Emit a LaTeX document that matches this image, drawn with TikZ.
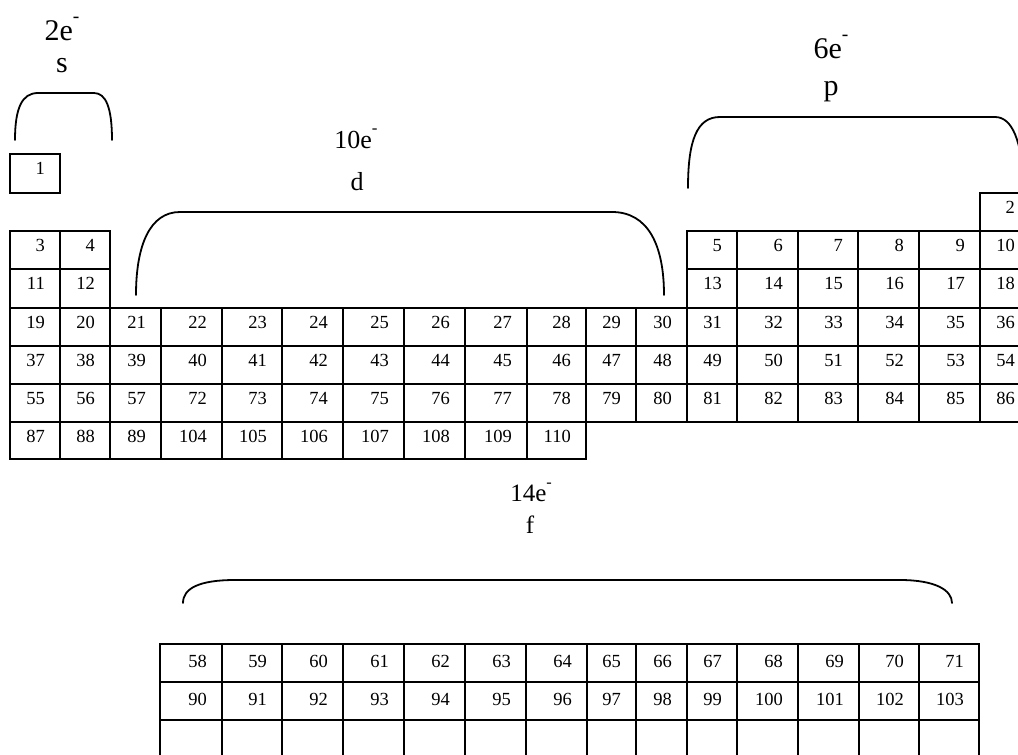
\documentclass[tikz,border=0pt]{standalone}
\usepackage{fontspec}
\setmainfont{Liberation Serif}
\newcommand\eminus{\raisebox{0.57em}{\scalebox{0.65}{-}}}
\def\cx{{10,60,110,161,222,282,343,404,465,527,586,636,687,737,798,858,919,980,1030}}
\def\ry{{154,193,231,269,308,346,384,422,459}}
\def\fx{{160,222,282,343,404,465,526,587,636,687,737,798,859,919,979}}
\def\fy{{644,682,720,758}}
% main-table cell: column index, row index, number
\newcommand\pcell[3]{%
  \pgfmathsetmacro\xa{\cx[#1]}\pgfmathsetmacro\xb{\cx[#1+1]}%
  \pgfmathsetmacro\ya{\ry[#2]}\pgfmathsetmacro\yb{\ry[#2+1]}%
  \draw[cellline] (\xa,\ya) rectangle (\xb,\yb);
  \node[num] (n#3) at (\xb-15,\ya+20.5) {#3};}
% f-table cell: column index, row index, text, name
\newcommand\fcell[4]{%
  \pgfmathsetmacro\xa{\fx[#1]}\pgfmathsetmacro\xb{\fx[#1+1]}%
  \pgfmathsetmacro\ya{\fy[#2]}\pgfmathsetmacro\yb{\fy[#2+1]}%
  \draw[cellline] (\xa,\ya) rectangle (\xb,\yb);
  \node[num] (#4) at (\xb-15,\ya+23) {#3};}
\begin{document}
\begin{tikzpicture}[x=1pt,y=-1pt,
  cellline/.style={line width=1.8pt},
  num/.style={font=\fontsize{18.5}{20}\selectfont, inner sep=0pt, anchor=base east},
  bracebig/.style={line width=1.8pt, line cap=round},
  lblbig/.style={inner sep=0pt, anchor=base, font=\fontsize{30}{32}\selectfont},
  lblmid/.style={inner sep=0pt, anchor=base, font=\fontsize{26}{28}\selectfont},
  lblsmall/.style={inner sep=0pt, anchor=base, font=\fontsize{25}{27}\selectfont}]
\useasboundingbox (0,0) rectangle (1018,755);
\clip (0,0) rectangle (1018,755);
\fill[white] (0,0) rectangle (1018,755);

% ---- main table ----
\pcell{0}{0}{1}
\pcell{17}{1}{2}
\pcell{0}{2}{3}
\pcell{1}{2}{4}
\foreach \i in {12,...,17}{\pgfmathtruncatemacro\n{\i-7}\pcell{\i}{2}{\n}}
\pcell{0}{3}{11}
\pcell{1}{3}{12}
\foreach \i in {12,...,17}{\pgfmathtruncatemacro\n{\i+1}\pcell{\i}{3}{\n}}
\foreach \i in {0,...,17}{\pgfmathtruncatemacro\n{19+\i}\pcell{\i}{4}{\n}}
\foreach \i in {0,...,17}{\pgfmathtruncatemacro\n{37+\i}\pcell{\i}{5}{\n}}
\pcell{0}{6}{55}
\pcell{1}{6}{56}
\pcell{2}{6}{57}
\foreach \i in {3,...,17}{\pgfmathtruncatemacro\n{69+\i}\pcell{\i}{6}{\n}}
\pcell{0}{7}{87}
\pcell{1}{7}{88}
\pcell{2}{7}{89}
\foreach \i in {3,...,9}{\pgfmathtruncatemacro\n{101+\i}\pcell{\i}{7}{\n}}

% ---- f table ----
\foreach \i in {0,...,13}{\pgfmathtruncatemacro\n{58+\i}\fcell{\i}{0}{\n}{f\n}}
\foreach \i in {0,...,13}{\pgfmathtruncatemacro\n{90+\i}\fcell{\i}{1}{\n}{f\n}}
\foreach \i in {0,...,13}{\fcell{\i}{2}{}{blank\i}}

% ---- brackets ----
\draw[bracebig] (15,140) .. controls (15,108) and (22,93) .. (38,93) -- (94,93)
  .. controls (106,93) and (112,108) .. (112,140);
\draw[bracebig] (136,295) .. controls (136,245) and (150,212) .. (180,212) -- (612,212)
  .. controls (648,212) and (664,245) .. (664,295);
\draw[bracebig] (688,188) .. controls (688,140) and (697,117) .. (720,117) -- (995,117)
  .. controls (1012,117) and (1022,140) .. (1024,188);
\draw[bracebig] (183,603) .. controls (183,588) and (200,580) .. (235,580) -- (900,580)
  .. controls (935,580) and (952,590) .. (952,603);

% ---- labels ----
\node[lblbig] (se) at (62,40) {2e\eminus};
\node[lblbig] (sl) at (62,72.5) {s};
\node[lblmid] (de) at (356,148) {10e\eminus};
\node[lblmid] (dl) at (357,190.5) {d};
\node[lblbig] (pe) at (831,58) {6e\eminus};
\node[lblbig] (pl) at (831,95) {p};
\node[lblsmall] (fe) at (531,501.5) {14e\eminus};
\node[lblsmall] (fl) at (530,533) {f};
\end{tikzpicture}
\end{document}
